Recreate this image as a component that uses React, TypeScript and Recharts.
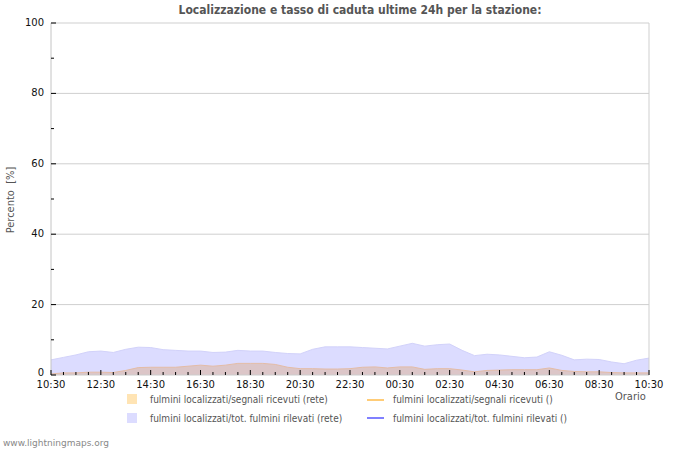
import React from "react";
import { ComposedChart, Area, XAxis, YAxis, ReferenceLine } from "recharts";

// half-hour slot labels for the x axis (every 2 hours labelled)
const timeLabels = ["10:30", "12:30", "14:30", "16:30", "18:30", "20:30", "22:30", "00:30", "02:30", "04:30", "06:30", "08:30", "10:30"];

// fulmini localizzati / tot. fulmini rilevati (rete) — % per half hour slot
const totRilevati = [
  4.3, 5.0, 5.7, 6.6, 6.8, 6.4, 7.3, 7.9, 7.8, 7.2,
  7.0, 6.8, 6.8, 6.4, 6.5, 7.0, 6.8, 6.8, 6.4, 6.1,
  6.0, 7.3, 8.0, 8.0, 8.0, 7.8, 7.6, 7.4, 8.2, 9.0,
  8.2, 8.6, 8.8, 7.0, 5.5, 5.9, 5.7, 5.3, 4.9, 5.1,
  6.6, 5.6, 4.3, 4.5, 4.4, 3.7, 3.2, 4.2, 4.8,
];

// fulmini localizzati / segnali ricevuti (rete)
const segnaliRicevuti = [
  0.3, 0.6, 0.6, 0.8, 0.8, 0.7, 1.3, 2.1, 2.2, 2.2,
  2.2, 2.5, 2.8, 2.5, 2.8, 3.3, 3.3, 3.3, 3.0, 2.2,
  1.8, 1.8, 1.7, 1.7, 1.8, 2.2, 2.3, 2.0, 2.3, 2.3,
  1.6, 1.8, 1.8, 1.4, 0.9, 1.3, 1.4, 1.5, 1.5, 1.5,
  2.0, 1.3, 1.0, 0.9, 0.9, 0.7, 0.6, 0.6, 0.6,
];

const yTicks = [0, 10, 20, 30, 40, 50, 60, 70, 80, 90, 100];
const gridValues = [20, 40, 60, 80, 100];

const data = totRilevati.map((v, i) => ({ slot: i, tot: v, seg: segnaliRicevuti[i] }));
const xTicks = data.map((d) => d.slot);
const lastSlot = data.length - 1;

const XTick = (props: any) => {
  const { x, y, payload } = props;
  const major = payload.value % 4 === 0;
  return (
    <g>
      <line x1={x} x2={x} y1={y} y2={y - (major ? 5 : 3)} stroke="#000" strokeWidth={1} />
      {major && (
        <text x={x} y={y + 13} textAnchor="middle" fontSize={10} fill="#111" fontFamily="DejaVu Sans">
          {timeLabels[payload.value / 4]}
        </text>
      )}
    </g>
  );
};

const YTick = (props: any) => {
  const { x, y, payload } = props;
  const major = payload.value % 20 === 0;
  return (
    <g>
      <line x1={x} x2={x + (major ? 5 : 3)} y1={y} y2={y} stroke="#000" strokeWidth={1} />
      {major && (
        <text x={x - 7} y={y + (payload.value === 0 ? 1 : 3)} textAnchor="end" fontSize={10} fill="#111" fontFamily="DejaVu Sans">
          {payload.value}
        </text>
      )}
    </g>
  );
};

const legendFont: React.CSSProperties = {
  position: "absolute",
  fontFamily: "DejaVu Sans Condensed, DejaVu Sans",
  fontSize: 10,
  color: "#555",
  whiteSpace: "nowrap",
  lineHeight: "12px",
};

export default function App() {
  return (
    <div style={{ position: "absolute", left: 0, top: 0, width: 700, height: 450, background: "#fff" }}>
      <ComposedChart
        width={700}
        height={450}
        data={data}
        margin={{ top: 23, right: 51, bottom: 55, left: 0 }}
      >
        <XAxis
          dataKey="slot"
          type="number"
          domain={[0, lastSlot]}
          ticks={xTicks}
          interval={0}
          tickSize={0}
          tickMargin={0}
          tickLine={false}
          axisLine={{ stroke: "#ccc" }}
          tick={<XTick />}
          height={20}
        />
        <YAxis
          type="number"
          domain={[0, 100]}
          ticks={yTicks}
          interval={0}
          tickSize={0}
          tickMargin={0}
          tickLine={false}
          axisLine={{ stroke: "#c4c4c4" }}
          tick={<YTick />}
          width={51}
        />
        {gridValues.map((g) => (
          <ReferenceLine key={g} y={g} stroke="#cfcfcf" strokeWidth={1} />
        ))}
        <ReferenceLine x={lastSlot} stroke="#cfcfcf" strokeWidth={1} />
        <Area
          type="linear"
          dataKey="tot"
          fill="#dcdcff"
          fillOpacity={1}
          stroke="#d2d2fa"
          strokeWidth={1}
          isAnimationActive={false}
          dot={false}
          activeDot={false}
        />
        <Area
          type="linear"
          dataKey="seg"
          fill="#dcc6c8"
          fillOpacity={1}
          stroke="#e4bca6"
          strokeWidth={1}
          isAnimationActive={false}
          dot={false}
          activeDot={false}
        />
      </ComposedChart>

      <div
        style={{
          position: "absolute",
          left: 0,
          width: 720,
          top: 3,
          textAlign: "center",
          fontFamily: "DejaVu Sans Condensed, DejaVu Sans",
          fontWeight: "bold",
          fontSize: 12,
          color: "#555",
          lineHeight: "14px",
        }}
      >
        Localizzazione e tasso di caduta ultime 24h per la stazione:
      </div>

      <div
        style={{
          position: "absolute",
          left: 10,
          top: 200,
          transform: "translate(-50%, -50%) rotate(-90deg)",
          fontFamily: "DejaVu Sans Condensed, DejaVu Sans",
          fontSize: 11,
          color: "#555",
          whiteSpace: "pre",
        }}
      >
        {"Percento  [%]"}
      </div>

      <div style={{ ...legendFont, left: 615, top: 390, fontSize: 11, lineHeight: "14px" }}>Orario</div>

      <div style={{ position: "absolute", left: 127, top: 394, width: 10, height: 10, background: "#ffe4b4" }} />
      <div style={{ ...legendFont, left: 150, top: 394 }}>fulmini localizzati/segnali ricevuti (rete)</div>
      <div style={{ position: "absolute", left: 127, top: 413, width: 10, height: 10, background: "#dcdcff" }} />
      <div style={{ ...legendFont, left: 150, top: 413 }}>fulmini localizzati/tot. fulmini rilevati (rete)</div>

      <div style={{ position: "absolute", left: 367, top: 399, width: 17, height: 2, background: "#ffcc77" }} />
      <div style={{ ...legendFont, left: 393, top: 394 }}>fulmini localizzati/segnali ricevuti ()</div>
      <div style={{ position: "absolute", left: 367, top: 417, width: 17, height: 2, background: "#8080ff" }} />
      <div style={{ ...legendFont, left: 393, top: 413 }}>fulmini localizzati/tot. fulmini rilevati ()</div>

      <div
        style={{
          position: "absolute",
          left: 3,
          top: 437,
          fontFamily: "DejaVu Sans",
          fontSize: 9,
          color: "#888",
          lineHeight: "12px",
        }}
      >
        www.lightningmaps.org
      </div>
    </div>
  );
}
